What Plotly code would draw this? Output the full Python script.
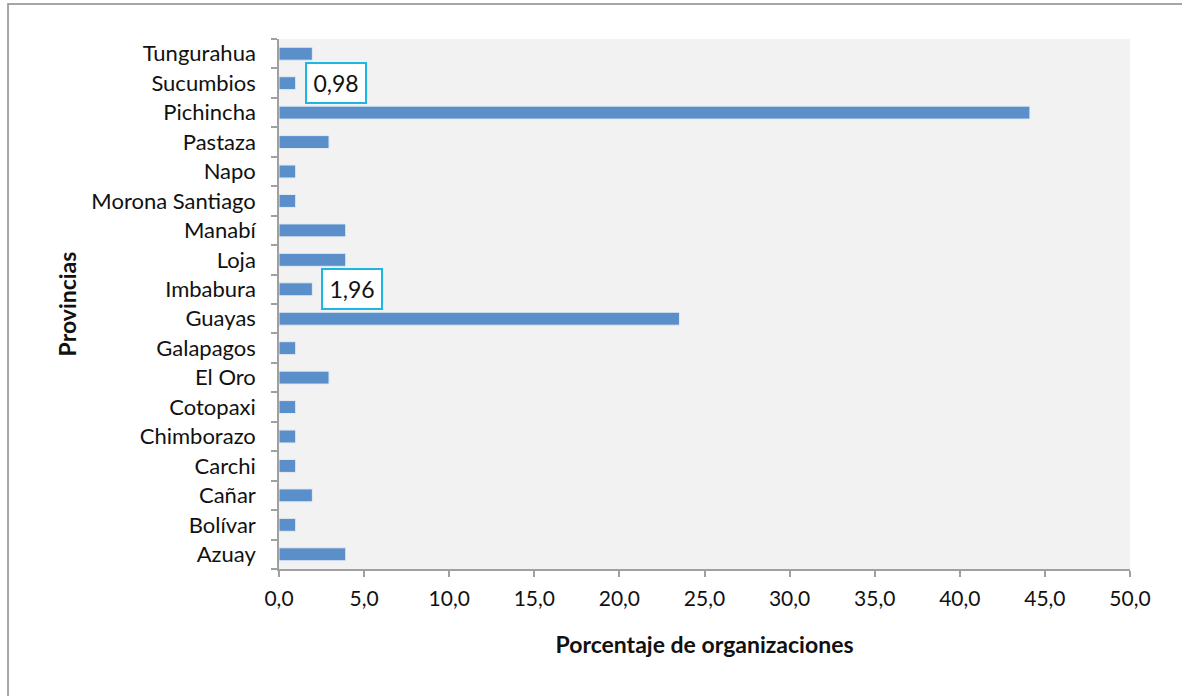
import plotly.graph_objects as go

provincias = ["Azuay", "Bolívar", "Cañar", "Carchi", "Chimborazo", "Cotopaxi", "El Oro",
              "Galapagos", "Guayas", "Imbabura", "Loja", "Manabí", "Morona Santiago", "Napo",
              "Pastaza", "Pichincha", "Sucumbios", "Tungurahua"]
porcentajes = [3.92, 0.98, 1.96, 0.98, 0.98, 0.98, 2.94,
               0.98, 23.53, 1.96, 3.92, 3.92, 0.98, 0.98,
               2.94, 44.12, 0.98, 1.96]
etiquetas = {"Sucumbios": "0,98", "Imbabura": "1,96"}
x_ticks = [0, 5, 10, 15, 20, 25, 30, 35, 40, 45, 50]
x_ticktext = [("%.1f" % v).replace(".", ",") for v in x_ticks]

FONT = "Lato"

fig = go.Figure()
fig.add_trace(go.Bar(
    y=provincias, x=porcentajes, orientation="h",
    marker=dict(color="#5b8fca", line=dict(color="#e3ebf5", width=1)),
    width=0.44, hoverinfo="x+y",
))

for prov, txt in etiquetas.items():
    val = porcentajes[provincias.index(prov)]
    fig.add_annotation(
        x=val, y=prov, xref="x", yref="y", text="\u200a" + txt + "\u200a", showarrow=False,
        xanchor="left", xshift=9, font=dict(family=FONT, size=23, color="#111"),
        bgcolor="white", bordercolor="#1cb8e3", borderwidth=2, borderpad=5,
    )

# outer chart frame
fig.add_shape(type="rect", xref="paper", yref="paper",
              x0=-0.3184, x1=1.2, y0=-0.3, y1=1.066,
              line=dict(color="#a6a6a6", width=2), fillcolor="rgba(0,0,0,0)", layer="below")

fig.update_layout(
    width=1182, height=696,
    margin=dict(l=279, r=52, t=39, b=127),
    paper_bgcolor="white", plot_bgcolor="#f2f2f2",
    font=dict(family=FONT, size=18, color="#111"),
    showlegend=False, bargap=0.56,
    xaxis=dict(range=[0, 50], tickvals=x_ticks, ticktext=x_ticktext,
               showgrid=False, zeroline=False, showline=True, linecolor="#a0a0a0", linewidth=1.5,
               ticks="outside", ticklen=6, tickcolor="#a0a0a0", tickwidth=1.5,
               tickfont=dict(size=21), automargin=False, ticklabelstandoff=4,
               title=dict(text="<b>Porcentaje de organizaciones</b>", font=dict(size=23), standoff=28)),
    yaxis=dict(categoryorder="array", categoryarray=provincias, tickson="boundaries",
               showgrid=False, zeroline=False, showline=True, linecolor="#a0a0a0", linewidth=1.5,
               ticks="outside", ticklen=6, tickcolor="#a0a0a0", tickwidth=1.5,
               tickfont=dict(size=22), range=[-0.5, 17.5], automargin=False, ticklabelstandoff=17,
               title=dict(text="<b>Provincias</b>", font=dict(size=23), standoff=8)),
)

fig.write_html("out.html", config={"displayModeBar": False},
               post_script="document.body.style.margin='0';")
